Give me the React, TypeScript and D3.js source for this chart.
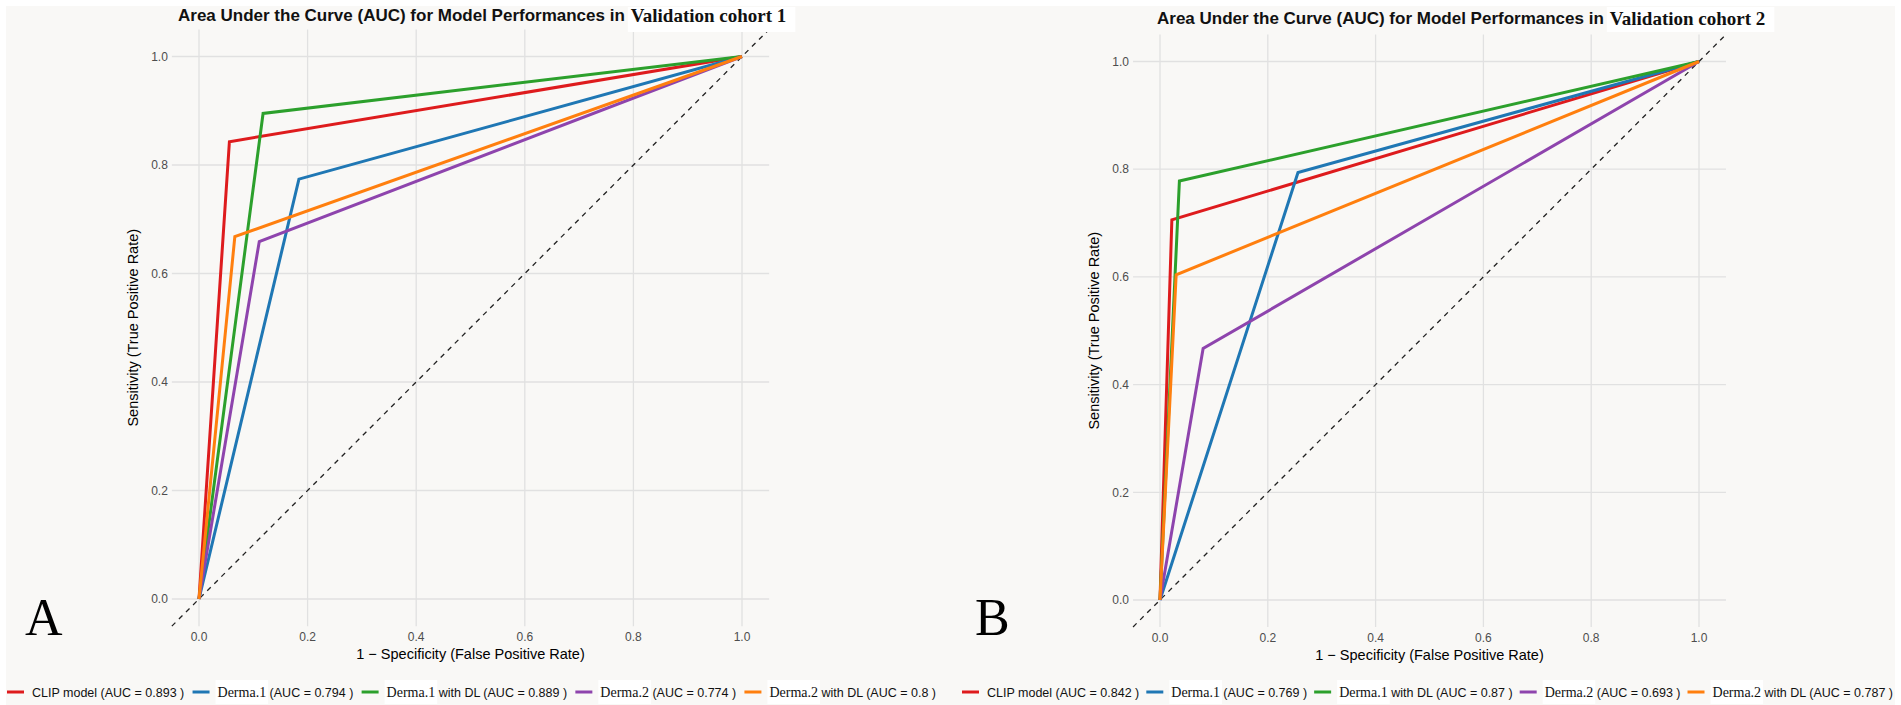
import { useEffect, useRef } from 'react'
import * as d3 from 'd3'

const W = 1901
const H = 705

const MODELS = ['CLIP model', 'Derma.1', 'Derma.1 with DL', 'Derma.2', 'Derma.2 with DL']
const COLORS = ['#de1b1d', '#1f77b4', '#2ca02c', '#8e44ad', '#ff7f0e']

// one operating point per model: (0,0) -> (fpr,tpr) -> (1,1)
const FPR_A = [0.056, 0.184, 0.118, 0.111, 0.066]
const TPR_A = [0.843, 0.774, 0.895, 0.659, 0.668]
const AUC_A = ['0.893', '0.794', '0.889', '0.774', '0.8']

const FPR_B = [0.022, 0.256, 0.036, 0.080, 0.030]
const TPR_B = [0.706, 0.794, 0.778, 0.467, 0.604]
const AUC_B = ['0.842', '0.769', '0.87', '0.693', '0.787']

const TICKS = [0, 0.2, 0.4, 0.6, 0.8, 1.0]

const SANS = '"Liberation Sans", Arial, Helvetica, sans-serif'
const SERIF = '"Liberation Serif", "Times New Roman", Times, serif'
const BG = '#f9f8f6'

const PANELS = [
  {
    letter: 'A', cohort: 'Validation cohort 1', fpr: FPR_A, tpr: TPR_A, auc: AUC_A,
    px: [199, 742], py: [599, 56.5], titleX: 178, titleY: 21,
    letterX: 25, legend: [7, 936],
  },
  {
    letter: 'B', cohort: 'Validation cohort 2', fpr: FPR_B, tpr: TPR_B, auc: AUC_B,
    px: [1160, 1699], py: [600, 61.5], titleX: 1157, titleY: 24,
    letterX: 975, legend: [962, 1893],
  },
]

export default function App() {
  const ref = useRef<SVGSVGElement>(null)

  useEffect(() => {
    if (!ref.current) return
    const svg = d3.select(ref.current)
    svg.selectAll('*').remove()

    svg.append('rect').attr('width', W).attr('height', H).attr('fill', '#fff')
    svg.append('rect').attr('x', 6).attr('y', 6).attr('width', W - 12).attr('height', H - 6).attr('fill', BG)

    PANELS.forEach(p => {
      const x = d3.scaleLinear().domain([0, 1]).range(p.px)
      const y = d3.scaleLinear().domain([0, 1]).range(p.py)
      const g = svg.append('g')

      // ── grid ──────────────────────────────────────────────
      g.selectAll('line.gx').data(TICKS).join('line')
        .attr('x1', d => x(d)).attr('x2', d => x(d))
        .attr('y1', y(-0.05)).attr('y2', y(1.05))
        .attr('stroke', '#e1e1e1').attr('stroke-width', 1.3)
      g.selectAll('line.gy').data(TICKS).join('line')
        .attr('y1', d => y(d)).attr('y2', d => y(d))
        .attr('x1', x(-0.05)).attr('x2', x(1.05))
        .attr('stroke', '#e1e1e1').attr('stroke-width', 1.3)

      // ── tick labels ───────────────────────────────────────
      g.selectAll('text.tx').data(TICKS).join('text')
        .attr('x', d => x(d)).attr('y', y(-0.05) + 15)
        .attr('text-anchor', 'middle')
        .attr('font-family', SANS).attr('font-size', 12).attr('fill', '#4d4d4d')
        .text(d => d.toFixed(1))
      g.selectAll('text.ty').data(TICKS).join('text')
        .attr('x', x(-0.05) - 4).attr('y', d => y(d)).attr('dy', '0.35em')
        .attr('text-anchor', 'end')
        .attr('font-family', SANS).attr('font-size', 12).attr('fill', '#4d4d4d')
        .text(d => d.toFixed(1))

      // ── axis titles ───────────────────────────────────────
      const cx = (p.px[0] + p.px[1]) / 2
      const cy = (p.py[0] + p.py[1]) / 2
      g.append('text')
        .attr('x', cx).attr('y', y(-0.05) + 33)
        .attr('text-anchor', 'middle')
        .attr('font-family', SANS).attr('font-size', 14.5).attr('fill', '#000')
        .text('1 − Specificity (False Positive Rate)')
      g.append('text')
        .attr('transform', `translate(${x(-0.05) - 34},${cy}) rotate(-90)`)
        .attr('text-anchor', 'middle')
        .attr('font-family', SANS).attr('font-size', 14.5).attr('fill', '#000')
        .text('Sensitivity (True Positive Rate)')

      // ── chance diagonal ───────────────────────────────────
      g.append('line')
        .attr('x1', x(-0.05)).attr('y1', y(-0.05))
        .attr('x2', x(1.05)).attr('y2', y(1.05))
        .attr('stroke', '#222').attr('stroke-width', 1.3)
        .attr('stroke-dasharray', '5,5')

      // ── ROC curves ────────────────────────────────────────
      const line = d3.line<[number, number]>().x(d => x(d[0])).y(d => y(d[1]))
      MODELS.forEach((_m, i) => {
        g.append('path')
          .attr('d', line([[0, 0], [p.fpr[i], p.tpr[i]], [1, 1]]))
          .attr('fill', 'none')
          .attr('stroke', COLORS[i])
          .attr('stroke-width', 3)
          .attr('stroke-linejoin', 'miter')
      })

      // ── title ─────────────────────────────────────────────
      const t1 = g.append('text')
        .attr('x', p.titleX).attr('y', p.titleY)
        .attr('font-family', SANS).attr('font-size', 17).attr('font-weight', 'bold')
        .attr('fill', '#111')
        .text('Area Under the Curve (AUC) for Model Performances in ')
      const w1 = (t1.node() as SVGTextElement).getComputedTextLength()
      const boxG = g.append('g')
      const t2 = g.append('text')
        .attr('x', p.titleX + w1 + 6).attr('y', p.titleY + 1)
        .attr('font-family', SERIF).attr('font-size', 19).attr('font-weight', 'bold')
        .attr('fill', '#111')
        .text(p.cohort)
      const w2 = (t2.node() as SVGTextElement).getComputedTextLength()
      boxG.append('rect')
        .attr('x', p.titleX + w1 + 3).attr('y', 7)
        .attr('width', w2 + 12).attr('height', 25).attr('fill', '#fff')

      // ── letter ────────────────────────────────────────────
      g.append('text')
        .attr('x', p.letterX).attr('y', 635)
        .attr('font-family', SERIF).attr('font-size', 52)
        .attr('fill', '#000')
        .text(p.letter)

      // ── legend ────────────────────────────────────────────
      const legY = 692
      const swW = 17
      const entries = MODELS.map((m, i) => {
        const eg = g.append('g')
        const isDerma = m.startsWith('Derma')
        const serifPart = isDerma ? m.split(' ')[0] : ''
        const rest = (isDerma ? m.slice(serifPart.length) : m) + ` (AUC = ${p.auc[i]} )`
        const bg = eg.append('rect').attr('fill', '#fff')
        const txt = eg.append('text')
          .attr('y', legY + 4.5)
          .attr('font-family', SANS).attr('font-size', 12.5).attr('fill', '#111')
        let sw = 0
        if (isDerma) {
          const s = txt.append('tspan').attr('font-family', SERIF).attr('font-size', 14).text(serifPart)
          sw = (s.node() as SVGTSpanElement).getComputedTextLength()
        }
        txt.append('tspan').text(rest)
        const tw = (txt.node() as SVGTextElement).getComputedTextLength()
        return { eg, txt, bg, tw, sw, isDerma, i }
      })
      const gapSw = 8
      const total = entries.reduce((s, e) => s + swW + gapSw + e.tw, 0)
      const gap = (p.legend[1] - p.legend[0] - total) / (entries.length - 1)
      let cur = p.legend[0]
      entries.forEach(e => {
        e.eg.append('line')
          .attr('x1', cur).attr('x2', cur + swW)
          .attr('y1', legY).attr('y2', legY)
          .attr('stroke', COLORS[e.i]).attr('stroke-width', 3)
        const tx = cur + swW + gapSw
        e.txt.attr('x', tx)
        if (e.isDerma) {
          e.bg.attr('x', tx - 2).attr('y', legY - 12).attr('width', e.sw + 4).attr('height', 24)
        } else {
          e.bg.remove()
        }
        cur = tx + e.tw + gap
      })
    })
  }, [])

  return (
    <svg
      ref={ref}
      width={W}
      height={H}
      viewBox={`0 0 ${W} ${H}`}
      style={{ position: 'absolute', left: 0, top: 0, display: 'block' }}
    />
  )
}
